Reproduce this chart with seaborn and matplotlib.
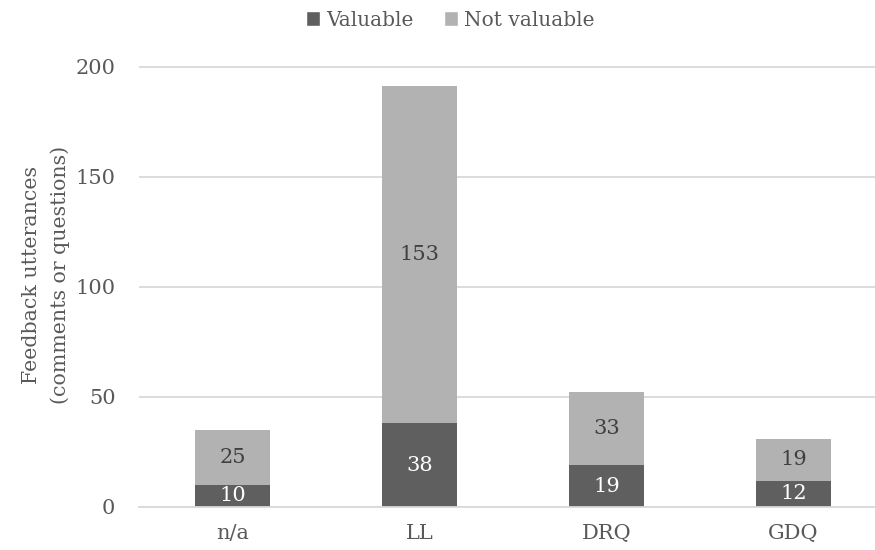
import matplotlib
matplotlib.use("Agg")
import matplotlib.pyplot as plt
import seaborn as sns
import pandas as pd
from matplotlib.patches import Patch

categories = ["n/a", "LL", "DRQ", "GDQ"]
valuable = [10, 38, 19, 12]
not_valuable = [25, 153, 33, 19]

DARK = "#5f5f5f"
LIGHT = "#b2b2b2"
TEXT = "#595959"
GRID = "#d9d9d9"

sns.set_theme(style="white")
plt.rcParams["font.family"] = ["DejaVu Serif"]
plt.rcParams["font.size"] = 15

df = pd.DataFrame({
    "category": categories,
    "valuable": valuable,
    "not_valuable": not_valuable,
})
df["total"] = df["valuable"] + df["not_valuable"]

fig = plt.figure(figsize=(8.75, 5.5), dpi=100)
# plot area spans past the right edge of the canvas
ax = fig.add_axes([139 / 875, 43 / 550, 748 / 875, 440.5 / 550])

sns.barplot(data=df, x="category", y="total", color=LIGHT, width=0.4,
            saturation=1, ax=ax, zorder=3, linewidth=0)
sns.barplot(data=df, x="category", y="valuable", color=DARK, width=0.4,
            saturation=1, ax=ax, zorder=3, linewidth=0)

ax.set_xlim(-0.5, 3.5)
ax.set_ylim(0, 200)
ax.set_yticks([0, 50, 100, 150, 200])
ax.yaxis.grid(True, color=GRID, linewidth=1.3, zorder=0)
ax.xaxis.grid(False)
for side in ["top", "right", "left"]:
    ax.spines[side].set_visible(False)
ax.spines["bottom"].set_color(GRID)
ax.spines["bottom"].set_linewidth(1.3)
ax.spines["bottom"].set_zorder(4)
ax.tick_params(axis="both", length=0, colors=TEXT, labelsize=15)
ax.tick_params(axis="y", pad=17)
ax.tick_params(axis="x", pad=12)
ax.set_xlabel("")
ax.set_ylabel("Feedback utterances\n(comments or questions)", color=TEXT,
              fontsize=14.8, linespacing=1.6)
ax.yaxis.set_label_coords(-(139 - 70) / 748, 0.527)

for i, (v, n) in enumerate(zip(valuable, not_valuable)):
    ax.text(i, v / 2, str(v), ha="center", va="center", color="white",
            fontsize=15, zorder=5)
    ax.text(i, v + n / 2, str(n), ha="center", va="center", color="#404040",
            fontsize=15, zorder=5)

handles = [Patch(facecolor=DARK, label="Valuable"),
           Patch(facecolor=LIGHT, label="Not valuable")]
fig.legend(handles=handles, loc="center", bbox_to_anchor=(450 / 875, 1 - 20 / 550),
           ncol=2, frameon=False, handlelength=0.7, handleheight=0.7,
           handletextpad=0.3, columnspacing=1.5, fontsize=14.5,
           labelcolor=TEXT)

fig.savefig("out.png", dpi=100)
